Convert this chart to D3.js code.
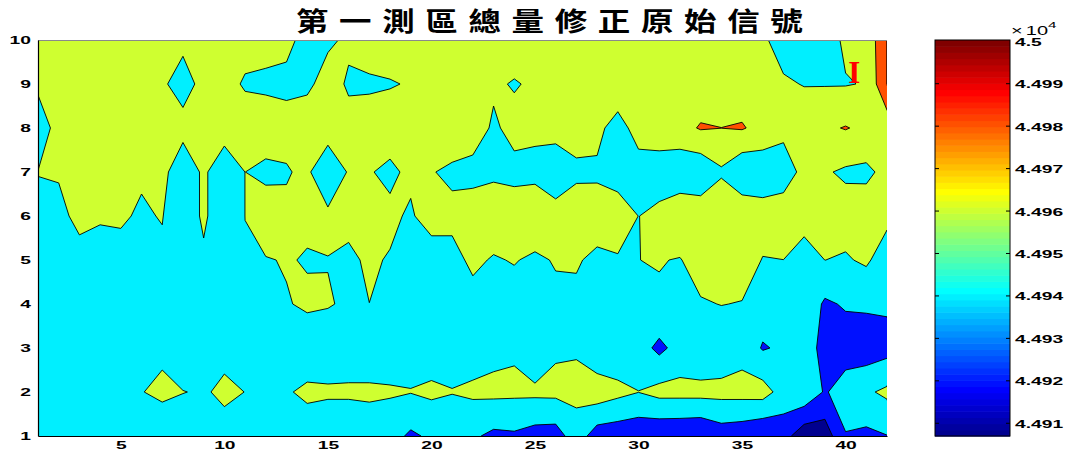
<!DOCTYPE html>
<html>
<head>
<meta charset="utf-8">
<script src="https://cdn.jsdelivr.net/npm/d3@7"></script>
<style>
  html, body { margin: 0; padding: 0; background: #fff; }
  svg { display: block; }
</style>
</head>
<body>
<svg id="chart" width="1078" height="454"></svg>
<script>
// Measurement grid: 42 columns (x = 1..42) by 10 rows (y = 1..10)
const columns = [1,2,3,4,5,6,7,8,9,10,11,12,13,14,15,16,17,18,19,20,21,22,23,24,25,26,27,28,29,30,31,32,33,34,35,36,37,38,39,40,41,42];
const rowsY = [1,2,3,4,5,6,7,8,9,10];

// Corrected raw signal, one array per row (y = 1 at the bottom)
const z01 = [44950,44952,44951,44950,44952,44953,44953.3,44952,44954,44956,44953,44952,44951,44950,44950,44950,44950,44948,44936.6,44943.4,44947,44942.9,44935.6,44937.1,44931.9,44930.8,44951.2,44929.6,44927.5,44925,44923.4,44922.6,44920.9,44929.3,44926.8,44921.4,44928,44907,44909,44938.9,44935.5,44939.5];
const z02 = [44950,44951,44949,44952,44954,44959.7,44962,44960.3,44958.9,44962,44959.9,44956,44958.3,44963.5,44962,44962,44963,44962,44960.7,44963.6,44960.7,44963.5,44964.6,44963.8,44964.2,44964.8,44965,44971.3,44965.3,44960.3,44966,44966.1,44966.4,44966.3,44966.8,44968,44952,44956,44938,44950,44957,44964];
const z03 = [44948,44950,44952,44951,44949,44952,44958,44952,44953,44957.1,44954,44952,44950,44948,44951,44952.5,44948.7,44949.5,44952,44949.8,44952,44950.5,44954.6,44957.4,44943.2,44957.4,44958.2,44944.4,44945.7,44949,44935,44947.6,44942.7,44946,44953.2,44938.4,44943,44955,44930,44930,44928.7,44932.7];
const z04 = [44950,44952,44950,44948,44951,44953,44950,44952,44951,44953,44954,44955,44958.7,44963,44961,44958,44959.9,44952,44950,44948,44951,44954.3,44952,44952.7,44953,44956.1,44957.7,44953,44952,44954,44957.6,44954,44958.2,44960.5,44959.1,44950,44950,44955,44937,44942,44943,44943];
const z05 = [44950,44950,44946.7,44952,44954.9,44952,44956.4,44950,44955.7,44950,44959.1,44958.7,44961.3,44958.7,44959.6,44956.2,44963.1,44958.3,44950,44942.4,44955.1,44963.2,44958.6,44961,44957,44961.3,44961,44957.7,44958,44959.9,44960.9,44959,44969,44970,44970.7,44959.1,44959.9,44951,44960.1,44958.1,44963,44949.4];
const z06 = [44955.5,44950,44970,44962,44962,44958,44960.9,44942.9,44964.3,44942.8,44960.1,44975,44963,44963.5,44964,44965.7,44968,44965.2,44956.4,44974.4,44964,44971.4,44970,44971,44973,44969,44973.4,44965.4,44972,44959.8,44963.6,44976,44973.3,44976.6,44975.6,44970,44973.5,44968,44970,44968.3,44971.6,44965];
const z07 = [44960.5,44963.3,44970,44970,44968,44962,44966.1,44945.7,44963.6,44945.6,44960.1,44953.6,44958.8,44963.2,44944.4,44961.7,44961.5,44955,44965.4,44960.8,44957,44953.3,44957,44954.5,44955,44945.8,44955.3,44958.2,44950,44954.6,44952.6,44945,44944.4,44957.3,44943.1,44946,44948,44966.8,44961.9,44957.1,44955.7,44965.9];
const z08 = [44945,44970,44970,44971,44970,44969,44970,44967,44970,44970,44975,44975,44965,44975,44970,44968,44970,44972,44970,44971,44970.6,44970.6,44957,44966,44963.6,44968,44970,44963,44955,44965,44968,44974,44981.5,44980.1,44981.5,44974,44966,44975,44977,44981,44976,44966];
const z09 = [44965,44970,44971,44970,44969,44970,44962.8,44952,44966,44969.5,44957,44955,44957,44955,44970,44957,44957,44958.5,44961.6,44968,44970,44971,44963,44958.5,44963,44970,44971,44970,44968.5,44970,44971,44970,44969,44970,44970,44968,44963,44959,44959,44959,44961,45000.3];
const z10 = [44970,44971,44970,44969,44970,44970,44968,44964.7,44968,44970,44970,44969,44963,44956,44956,44964,44970,44972,44970,44971,44970,44969,44970,44971.3,44970,44971,44970,44969,44970,44971,44970,44970,44969,44970,44968,44963.7,44950,44950,44952,44963,44964,45000.3];

// Contour levels and tick values
const levels = [44920, 44940, 44960, 44980, 45000];
const xTicks = [5, 10, 15, 20, 25, 30, 35, 40];
const yTicks = [1, 2, 3, 4, 5, 6, 7, 8, 9, 10];
const colorbarTicks = [44910, 44920, 44930, 44940, 44950, 44960, 44970, 44980, 44990, 45000];
const titleText = "第一測區總量修正原始信號";
const annotation = { text: "I", x: 40.42, y: 9.02 };

// ---------- layout ----------
const svg = d3.select("#chart");
const plot = { left: 38, right: 887, top: 40, bottom: 436 };
const cb = { left: 935, right: 1010, top: 40, bottom: 436 };
const x = d3.scaleLinear().domain([1, 42]).range([plot.left, plot.right]);
const y = d3.scaleLinear().domain([1, 10]).range([plot.bottom, plot.top]);

const grid = [z01, z02, z03, z04, z05, z06, z07, z08, z09, z10];
const nx = columns.length, ny = rowsY.length;
const flat = grid.flat();
const [cmin, cmax] = d3.extent(flat);

// MATLAB-style jet colormap with m entries
function jetColormap(m) {
  const n = Math.ceil(m / 4);
  const u = [];
  for (let i = 1; i <= n; i++) u.push(i / n);
  for (let i = 1; i < n; i++) u.push(1);
  for (let i = n; i >= 1; i--) u.push(i / n);
  const g0 = Math.ceil(n / 2) - (m % 4 === 1 ? 1 : 0);
  const J = Array.from({ length: m }, () => [0, 0, 0]);
  u.forEach((val, k) => {
    const g = g0 + k + 1, r = g + n, b = g - n;
    if (r >= 1 && r <= m) J[r - 1][0] = val;
    if (g >= 1 && g <= m) J[g - 1][1] = val;
    if (b >= 1 && b <= m) J[b - 1][2] = val;
  });
  return J;
}
const M = 64;
const jet = jetColormap(M);
const rgb = c => d3.rgb(Math.round(c[0] * 255), Math.round(c[1] * 255), Math.round(c[2] * 255)).formatHex();
const colorAt = v => rgb(jet[Math.max(0, Math.min(M - 1, Math.floor((v - cmin) / (cmax - cmin) * M)))]);

// Fill colour for the band lying below levels[i]
const bandBelow = i => (i === 0 ? colorAt(cmin) : colorAt(levels[i - 1]));
const topBand = colorAt(levels[levels.length - 1]);

// Regions {value <= level}, built on the negated field so that
// ambiguous cells keep the higher-valued corners joined
const negated = flat.map(v => -v);
const regions = d3.contours()
  .size([nx, ny])
  .smooth(true)
  .thresholds(levels.map(l => -l))(negated);

const toScreen = d3.geoTransform({
  point(cx, cy) { this.stream.point(x(cx + 0.5), y(cy + 0.5)); }
});
const path = d3.geoPath(toScreen);

svg.append("defs").append("clipPath").attr("id", "plotClip")
  .append("rect")
  .attr("x", plot.left).attr("y", plot.top)
  .attr("width", plot.right - plot.left).attr("height", plot.bottom - plot.top);

const field = svg.append("g").attr("clip-path", "url(#plotClip)");
field.append("rect")
  .attr("x", plot.left).attr("y", plot.top)
  .attr("width", plot.right - plot.left).attr("height", plot.bottom - plot.top)
  .attr("fill", topBand);

field.selectAll("path.band")
  .data(regions)
  .join("path")
  .attr("class", "band")
  .attr("d", path)
  .attr("fill", d => bandBelow(levels.indexOf(-d.value)))
  .attr("fill-rule", "evenodd")
  .attr("stroke", "#000")
  .attr("stroke-width", 0.9)
  .attr("stroke-linejoin", "round");

// ---------- axes ----------
const tickFont = "'Liberation Sans', Arial, Helvetica, sans-serif";
const sx = 1.75;

svg.append("line")
  .attr("x1", plot.left).attr("x2", plot.right)
  .attr("y1", plot.top + 0.5).attr("y2", plot.top + 0.5)
  .attr("stroke", "#8a8a8a").attr("stroke-width", 1);

const gx = svg.append("g")
  .attr("transform", `translate(0,${plot.bottom})`)
  .attr("color", "#000")
  .call(d3.axisBottom(x).tickValues(xTicks).tickSize(0).tickSizeOuter(0).tickPadding(0));
gx.select(".domain").attr("stroke-width", 1.2);
gx.selectAll("text")
  .attr("y", 13.5).attr("dy", null)
  .attr("font-family", tickFont).attr("font-size", 11).attr("font-weight", "bold")
  .attr("transform", `scale(${sx},1)`);

const gy = svg.append("g")
  .attr("transform", `translate(${plot.left},0)`)
  .attr("color", "#000")
  .call(d3.axisLeft(y).tickValues(yTicks).tickSize(0).tickSizeOuter(0).tickPadding(0));
gy.select(".domain").attr("stroke-width", 1.2);
gy.selectAll("text")
  .attr("x", -7 / sx).attr("dy", "0.36em")
  .attr("font-family", tickFont).attr("font-size", 11).attr("font-weight", "bold")
  .attr("transform", `scale(${sx},1)`);

// ---------- annotation ----------
svg.append("text")
  .attr("x", x(annotation.x)).attr("y", y(annotation.y))
  .attr("text-anchor", "middle")
  .attr("font-family", "'Liberation Serif', 'Times New Roman', serif")
  .attr("font-weight", "bold").attr("font-size", 31)
  .attr("fill", "#ff0000")
  .text(annotation.text);

// ---------- title ----------
svg.append("text")
  .attr("transform", "translate(296,31) scale(1.25,1)")
  .attr("font-family", "'Noto Sans CJK TC', 'Noto Sans CJK SC', sans-serif")
  .attr("font-weight", "bold").attr("font-size", 26)
  .attr("letter-spacing", 8.5)
  .attr("fill", "#000")
  .text(titleText);

// ---------- colorbar ----------
const cy = d3.scaleLinear().domain([cmin, cmax]).range([cb.bottom, cb.top]);
const step = (cmax - cmin) / M;
const gcb = svg.append("g");
gcb.selectAll("rect.swatch")
  .data(jet)
  .join("rect")
  .attr("class", "swatch")
  .attr("x", cb.left).attr("width", cb.right - cb.left)
  .attr("y", (d, i) => cy(cmin + (i + 1) * step))
  .attr("height", (d, i) => cy(cmin + i * step) - cy(cmin + (i + 1) * step) + 0.6)
  .attr("fill", d => rgb(d));
gcb.append("rect")
  .attr("x", cb.left).attr("y", cb.top)
  .attr("width", cb.right - cb.left).attr("height", cb.bottom - cb.top)
  .attr("fill", "none").attr("stroke", "#000").attr("stroke-width", 1);

gcb.selectAll("line.tl")
  .data(colorbarTicks.filter(v => v < cmax - 0.5))
  .join("line").attr("class", "tl")
  .attr("x1", cb.left).attr("x2", cb.left + 4)
  .attr("y1", d => cy(d)).attr("y2", d => cy(d))
  .attr("stroke", "#000");
gcb.selectAll("line.tr")
  .data(colorbarTicks.filter(v => v < cmax - 0.5))
  .join("line").attr("class", "tr")
  .attr("x1", cb.right - 4).attr("x2", cb.right)
  .attr("y1", d => cy(d)).attr("y2", d => cy(d))
  .attr("stroke", "#000");

const fmt = v => String(+(v / 1e4).toFixed(3));
const gcl = svg.append("g")
  .attr("transform", `translate(${cb.right},0)`)
  .attr("color", "#000")
  .call(d3.axisRight(cy).tickValues(colorbarTicks).tickFormat(fmt).tickSize(0).tickPadding(0));
gcl.select(".domain").remove();
gcl.selectAll("text")
  .attr("x", 5 / sx).attr("dy", "0.36em")
  .attr("font-family", tickFont).attr("font-size", 11).attr("font-weight", "bold")
  .attr("transform", `scale(${sx},1)`);

// exponent label above the colorbar
const expo = svg.append("text")
  .attr("transform", `translate(1011,35) scale(1.6,1)`)
  .attr("font-family", tickFont).attr("font-size", 12.5).attr("fill", "#000");
expo.append("tspan").text("×");
expo.append("tspan").attr("dx", 2).text("10");
expo.append("tspan").attr("dy", -7).attr("font-size", 9.5).text("4");
</script>
</body>
</html>
